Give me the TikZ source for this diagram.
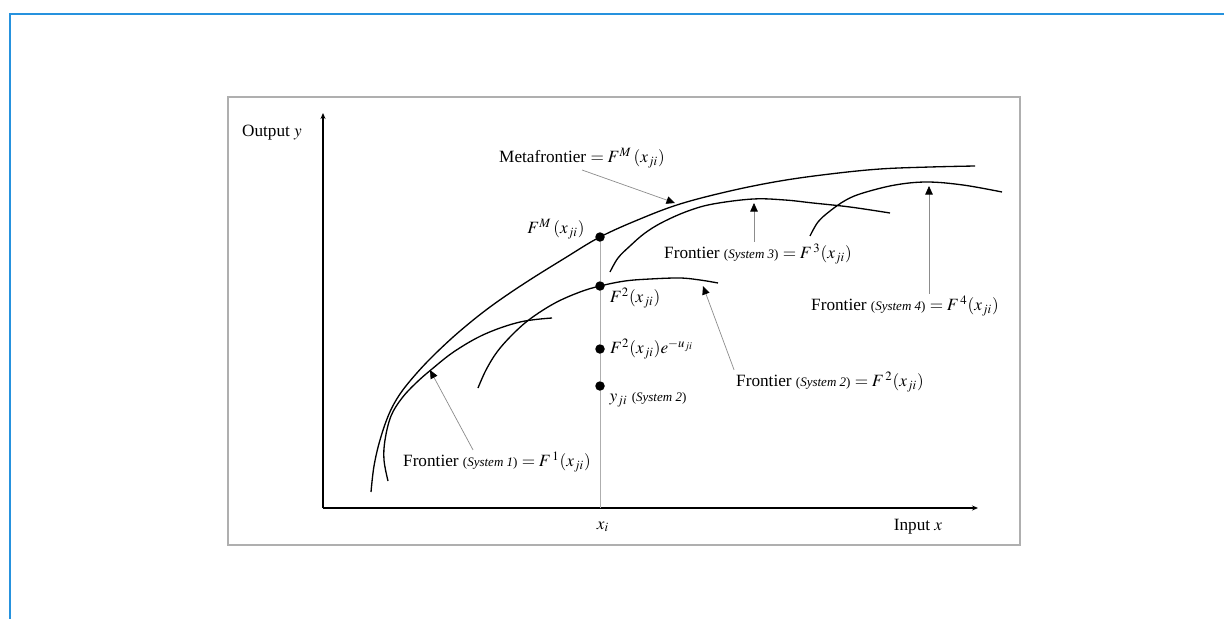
\documentclass[tikz,border=0pt]{standalone}
\usepackage{mathptmx}
\usepackage{fontspec}
\setmainfont{Liberation Serif}
\usetikzlibrary{arrows.meta,calc}
\definecolor{frameblue}{RGB}{38,146,222}
\definecolor{boxgray}{RGB}{175,175,175}
\definecolor{leadgray}{RGB}{140,140,140}
\newcommand{\sysname}[1]{{\fontsize{7.4}{9}\selectfont(\textit{System #1})}}

\begin{document}
\begin{tikzpicture}[
    x=0.02cm, y=-0.02cm,
    every node/.style={inner sep=1pt, font=\fontsize{9.8}{12}\selectfont},
    curve/.style={line width=0.75pt},
    pointer/.style={draw=leadgray, line width=0.4pt, -{Triangle[length=0.17cm, width=0.15cm, color=black]}},
    point/.style={circle, fill=black, inner sep=0pt, minimum size=0.19cm},
    axis/.style={line width=0.6pt, -{Stealth[length=0.12cm, width=0.1cm]}}
]
\useasboundingbox (0,0) rectangle (1224,619);

% Frames
\draw[frameblue, line width=0.85pt] (1224,14) -- (10,14) -- (10,619);
\draw[boxgray, line width=1.1pt] (228,97) rectangle (1020,545);

% Axes
\draw[axis] (323,508) -- (323,113);
\draw[axis] (323,508) -- (978,508);
\node (output_label) at (272,133) {Output $y$};
\node (input_label) at (918,527) {Input $x$};
\node (xi_label) at (603,527) {$x_i$};

% Metafrontier and group frontiers
\draw[curve] plot[smooth, tension=0.6] coordinates {(371,492) (374,466) (380,440) (389,414) (400,394) (416,374) (435,354) (460,331) (490,307) (525,283) (565,258) (600,237) (640,219) (680,204) (730,191) (780,181) (830,174) (880,169) (930,167) (975,166)};
\draw[curve] plot[smooth, tension=0.6] coordinates {(388,481) (384,460) (385,440) (391,416) (402,398) (416,383) (432,369) (455,351) (485,334) (520,322) (552,318)};
\draw[curve] plot[smooth, tension=0.6] coordinates {(478,388) (486,370) (497,352) (512,335) (530,319) (555,303) (580,292) (600,286) (625,281) (650,279) (680,278) (700,280) (718,283)};
\draw[curve] plot[smooth, tension=0.6] coordinates {(610,272) (618,258) (630,246) (645,233) (663,222) (688,211) (713,204) (753,199) (785,200) (813,203) (850,207) (890,213)};
\draw[curve] plot[smooth, tension=0.6] coordinates {(810,236) (818,222) (830,211) (846,200) (863,193) (895,185) (927,182) (963,185) (1002,192)};

% Points at x_i
\node[point] (fm_dot) at (600,237) {};
\node[point] (f2_dot) at (600,286) {};
\node[point] (f2e_dot) at (600,349) {};
\node[point] (yji_dot) at (600,386) {};
\coordinate (xi_foot) at (600,508);
\draw[leadgray!70, line width=0.4pt] (fm_dot) -- (f2_dot) -- (f2e_dot) -- (yji_dot) -- (xi_foot);

\node (fm_label) at (556,229) {$F^{M}\,(x_{ji})$};
\node (f2_label) at (635,298) {$F^{2}(x_{ji})$};
\node (f2e_label) at (652,349) {$F^{2}(x_{ji})e^{-u_{ji}}$};
\node (yji_label) at (648,400) {$y_{ji}$ \sysname{2}};

% Frontier labels
\node (meta_label) at (582,158) {Metafrontier $= F^{M}\,(x_{ji})$};
\node (sys1_label) at (497,462) {Frontier \sysname{1} $= F^{\,1}(x_{ji})$};
\node (sys2_label) at (830,382) {Frontier \sysname{2} $= F^{\,2}(x_{ji})$};
\node (sys3_label) at (758,254) {Frontier \sysname{3} $= F^{\,3}(x_{ji})$};
\node (sys4_label) at (905,306) {Frontier \sysname{4} $= F^{\,4}(x_{ji})$};

% Pointers
\coordinate (meta_tip) at (675,203);
\coordinate (sys1_tip) at (430,370);
\coordinate (sys2_tip) at (703,286);
\coordinate (sys3_tip) at (754,203);
\coordinate (sys4_tip) at (929,186);
\draw[pointer] (meta_label.south) -- (meta_tip);
\draw[pointer] (sys1_label.north) ++(-24,0) -- (sys1_tip);
\draw[pointer] (sys2_label.north west) -- (sys2_tip);
\draw[pointer] (sys3_label.north -| sys3_tip) -- (sys3_tip);
\draw[pointer] (sys4_label.north -| sys4_tip) -- (sys4_tip);

\end{tikzpicture}
\end{document}
